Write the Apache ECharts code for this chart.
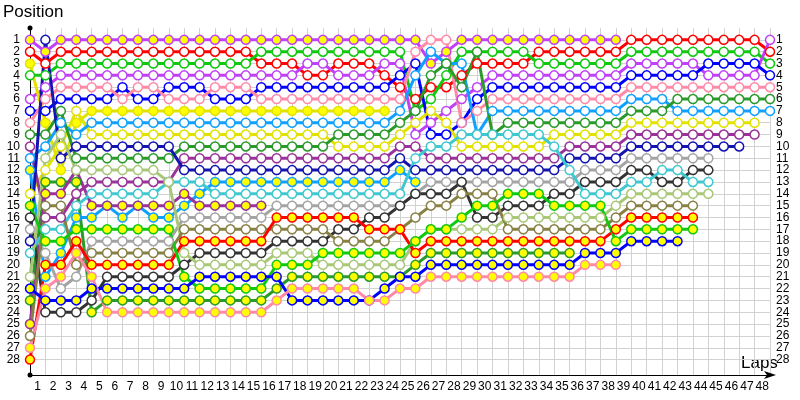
<!DOCTYPE html>
<html><head><meta charset="utf-8">
<script src="https://cdn.jsdelivr.net/npm/echarts@6/dist/echarts.min.js"></script>
<style>html,body{margin:0;padding:0;background:#fff}#c{width:800px;height:400px}</style>
</head><body><div id="c"></div>
<script>
const lapLabels = ['1','2','3','4','5','6','7','8','9','10','11','12','13','14','15','16','17','18','19','20','21','22','23','24','25','26','27','28','29','30','31','32','33','34','35','36','37','38','39','40','41','42','43','44','45','46','47','48'];
const positionLabels = ['1','2','3','4','5','6','7','8','9','10','11','12','13','14','15','16','17','18','19','20','21','22','23','24','25','26','27','28'];

// positions per lap, lap 0 (grid) .. last lap run
const purpleA = [1,2,1,1,1,1,1,1,1,1, 1,1,1,1,1,1,1,1,1,1, 1,1,1,1,1,1,3,2,1,1, 1,1,1,1,1,1,1,1,1];
const red = [2,3,2,2,2,2,2,2,2,2, 2,2,2,2,2,3,3,3,4,4, 3,3,3,4,5,6,5,5,4,3, 3,3,3,2,2,2,2,2,2,1, 1,1,1,1,1,1,1,1,2];
const green = [4,4,3,3,3,3,3,3,3,3, 3,3,3,3,3,2,2,2,2,2, 2,2,2,2,2,7,6,4,2,2, 2,2,2,3,3,3,3,3,3,2, 2,2,2,2,2,2,2,2,3];
const purpleB = [6,5,4,4,4,4,4,4,4,4, 4,4,4,4,4,4,4,4,3,3, 4,4,4,3,3,9,8,7,6,5, 4,4,4,4,4,4,4,4,4,3, 3,3,3,3,4,4,4,4,1];
const blue = [7,7,6,6,6,6,5,6,6,5, 5,5,6,6,6,5,5,5,5,5, 5,5,5,5,4,3,9,9,8,6, 5,5,5,5,5,5,5,5,5,4, 4,4,4,4,3,3,3,3,4];
const pink = [8,6,5,5,5,5,6,5,5,6, 6,6,5,5,5,6,6,6,6,6, 6,6,6,6,6,2,1,1,8,7, 6,6,6,6,6,6,6,6,6,5, 5,5,5,5,5,5,5,5,5];
const yellowA = [3,8,12,8,7,7,7,7,7,7, 7,7,7,7,7,7,7,7,7,7, 7,7,7,7];
const yellowB = [14,12,10,7,9,9,9,9,9,9, 9,9,9,9,9,9,9,9,9,9, 10,10,10,10,9,8,7,8,10,10, 10,10,10,10,9,9,9,9,9,8, 8,8,8,8,8,8,8,8];
const lightBlue = [11,10,8,9,8,8,8,8,8,8, 8,8,8,8,8,8,8,8,8,8, 8,8,8,8,7,4,2,3,3,9, 7,7,7,7,7,7,7,7,7,6, 6,6,7,7,7,7,7,7,7];
const lightBlueY = [12,21,19,16,16,15,16,15,16,16, 15,14,13,13,13,13,13,13,13,13, 13,13,13,13,12,13];
const darkGreen = [9,9,7,11,11,11,11,11,11,11, 10,10,10,10,10,10,10,10,10,10, 9,9,9,9,8,7,4,3,5,2, 9,8,8,8,8,8,8,8,8,7, 7,7,6,6,6,6,6,6,6];
const darkGreenY = [23,13,13,13,24,23,23,23,23,23, 23,23,23,23,23,23,22,21,21,21, 21,21,21,21,21,20,19,19,19,19, 19,19,19,19,19,19];
const darkPurple = [10,16,16,14,13,13,13,13,13,13, 11,11,11,11,11,11,11,11,11,11, 11,11,11,11,10,10,11,11,11,11, 11,11,11,11,11,10,10,10,10,9, 9,9,9,9,9,9,9,9];
const darkPurpleY = [25,14,14,12,15,15,15,15,15,15, 14,15,15,15,15,15];
const navy = [18,1,11,10,10,10,10,10,10,10, 12,12,12,12,12,12,12,12,12,12, 12,12,12,12,11,12,12,12,12,12, 12,12,12,12,12,11,11,11,11,10, 10,10,10,10,10,10,10];
const gray = [17,19,22,21,18,18,18,18,18,18, 16,16,16,16,16,16,15,15,15,15, 15,15,15,15,15,14,13,13,13,13, 13,13,13,13,13,13,12,12,12,11, 11,11,11,11,11];
const darkGray = [16,24,24,24,23,21,21,21,21,21, 20,19,19,19,19,19,18,18,18,18, 17,17,16,16,15,14,14,14,13,16, 16,15,15,15,14,14,13,13,13,12, 12,13,13,12,12];
const cyan = [19,17,17,15,14,14,14,14,14,13, 13,13,14,14,14,14,14,14,14,14, 14,14,14,14,14,11,10,10,9,9, 9,9,9,9,10,12,14,14,14,13, 13,12,12,13,13];
const lightOlive = [21,11,9,12,12,12,12,12,12,13, 19,20,20,20,20,20,19,19,19,20, 20,20,20,20,20,18,17,17,17,17, 17,16,16,16,16,16,16,16,15,14, 14,14,14,14,14];
const olive = [26,15,15,20,19,19,19,19,19,19, 17,17,17,17,17,17,17,17,17,17, 18,18,18,18,17,16,15,15,14,14, 14,17,17,17,17,17,17,17,16,15, 15,15,15,15];
const redY = [28,20,20,18,20,20,20,20,20,20, 18,18,18,18,18,18,16,16,16,16, 16,16,17,17,17,19,18,18,18,18, 18,18,18,18,18,18,18,18,17,16, 16,16,16,16];
const greenY = [15,18,18,17,17,17,17,17,17,17, 21,22,22,22,22,22,20,20,20,19, 19,19,19,19,19,18,17,17,16,15, 15,14,14,14,15,15,15,15,18,17, 17,17,17,17];
const blueY = [22,23,23,23,22,22,22,22,22,22, 22,21,21,21,21,21,21,23,23,23, 23,23,23,22,21,21,20,20,20,20, 20,20,20,20,20,20,19,19,19,18, 18,18,18];
const pinkY = [27,22,21,19,21,24,24,24,24,24, 24,24,24,24,24,24,23,22,22,22, 22,22,23,23,22,22,21,21,21,21, 21,21,21,21,21,21,20,20,20];

const drivers = [
  {pos: purpleA, color: '#c040f8', filled: true},
  {pos: red, color: '#ff0000', filled: false},
  {pos: green, color: '#10c810', filled: false},
  {pos: purpleB, color: '#c040f8', filled: false},
  {pos: blue, color: '#0000ff', filled: false},
  {pos: pink, color: '#ff8aa8', filled: false},
  {pos: yellowA, color: '#e2e200', filled: true},
  {pos: yellowB, color: '#e2e200', filled: false},
  {pos: lightBlue, color: '#10a0ff', filled: false},
  {pos: lightBlueY, color: '#10a0ff', filled: true},
  {pos: darkGreen, color: '#2a9a2a', filled: false},
  {pos: darkGreenY, color: '#2a9a2a', filled: true},
  {pos: darkPurple, color: '#993399', filled: false},
  {pos: darkPurpleY, color: '#993399', filled: true},
  {pos: navy, color: '#1414b0', filled: false},
  {pos: gray, color: '#a4a4a4', filled: false},
  {pos: darkGray, color: '#333333', filled: false},
  {pos: cyan, color: '#40c8d0', filled: false},
  {pos: lightOlive, color: '#a8c878', filled: false},
  {pos: olive, color: '#888044', filled: false},
  {pos: redY, color: '#ff0000', filled: true},
  {pos: greenY, color: '#10c810', filled: true},
  {pos: blueY, color: '#0000ff', filled: true},
  {pos: pinkY, color: '#ff8aa8', filled: true}
];

const chart = echarts.init(document.getElementById('c'), null, {renderer: 'canvas'});
const series = [];
drivers.forEach(d => {
  const pts = [];
  d.pos.forEach((p, i) => { if (p != null) pts.push([i, p]); });
  series.push({type: 'line', data: pts, symbol: 'none', z: 2, silent: true, animation: false,
    lineStyle: {color: d.color, width: 3}});
});
drivers.forEach(d => {
  const pts = [];
  d.pos.forEach((p, i) => { if (p != null) pts.push([i, p]); });
  series.push({type: 'scatter', data: pts, symbol: 'circle', symbolSize: 9, z: 3, silent: true, animation: false,
    itemStyle: {color: d.filled ? '#ffff00' : '#ffffff', borderColor: d.color, borderWidth: 1.5, opacity: 1}});
});

const gridColors = ['rgba(0,0,0,0)'];
positionLabels.forEach(() => gridColors.push('#d2d2d2'));
gridColors.push('rgba(0,0,0,0)', 'rgba(0,0,0,0)');

const labelFont = {fontFamily: 'Liberation Sans', fontSize: 12, color: '#000'};
const yLabel = v => (Number.isInteger(v) && v >= 1 && v <= positionLabels.length) ? positionLabels[v - 1] : '';

chart.setOption({
  animation: false,
  grid: {left: 30, right: 30, top: 28, bottom: 25, containLabel: false},
  xAxis: [
    {type: 'value', min: 0, max: 48, interval: 1,
     axisLine: {show: true, onZero: false, lineStyle: {color: '#000', width: 1}, symbol: ['none', 'arrow'], symbolSize: [6, 12], symbolOffset: [0, 6]},
     axisTick: {show: false}, axisLabel: {show: false},
     splitLine: {show: true, lineStyle: {color: '#d2d2d2', width: 1}}},
    {type: 'category', data: lapLabels, boundaryGap: true, position: 'bottom',
     axisLine: {show: false}, axisTick: {show: false},
     axisLabel: Object.assign({interval: 0, margin: 6}, labelFont), splitLine: {show: false}}
  ],
  yAxis: [
    {type: 'value', inverse: true, min: 0, max: 29.3, interval: 1,
     axisLine: {show: true, onZero: false, lineStyle: {color: '#000', width: 1}, symbol: ['circle', 'circle'], symbolSize: [5, 5]},
     axisTick: {show: false},
     axisLabel: Object.assign({margin: 10, formatter: yLabel}, labelFont),
     splitLine: {show: true, lineStyle: {color: gridColors, width: 1}}},
    {type: 'value', inverse: true, min: 0, max: 29.3, interval: 1, position: 'right',
     axisLine: {show: false}, axisTick: {show: false},
     axisLabel: Object.assign({margin: 6, formatter: yLabel}, labelFont),
     splitLine: {show: false}}
  ],
  graphic: [
    {type: 'text', left: 3, top: 4, style: {text: 'Position', fontFamily: 'Liberation Sans', fontSize: 17, fill: '#000'}},
    {type: 'text', left: 741, top: 355, style: {text: 'Laps', fontFamily: 'Liberation Sans', fontSize: 17, fill: '#000'}}
  ],
  series: series
});
</script>
</body></html>
